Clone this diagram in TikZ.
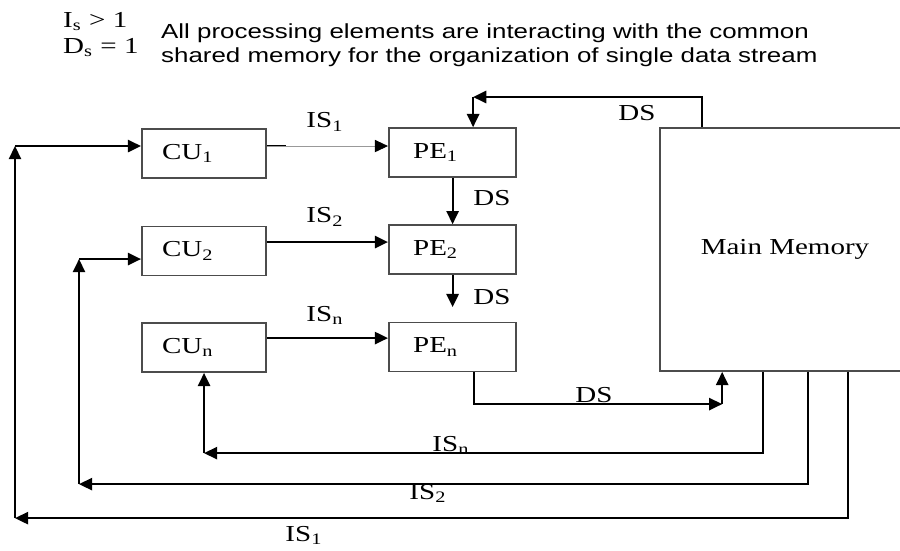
\documentclass[tikz,border=0pt]{standalone}
\usepackage{fontspec}
\setmainfont{Liberation Serif}
\newfontfamily\arialfont{Liberation Sans}
\usetikzlibrary{arrows.meta,positioning}

\begin{document}
\begin{tikzpicture}[x=0.01575cm,y=-0.02cm,xscale=1.27,transform shape,
  >={Triangle[length=7.5pt,width=7pt]},line width=1.1pt,
  box/.style={draw=black!70,line width=1pt,minimum height=0.98cm,align=left,
    font=\fontsize{13}{15}\selectfont},
  cubox/.style={box,minimum width=1.95cm,text width=1.32cm,inner xsep=0.315cm},
  pebox/.style={box,minimum width=2cm,text width=1.24cm,inner xsep=0.38cm},
  lbl/.style={font=\fontsize{13}{15}\selectfont,inner sep=1pt},
  note/.style={anchor=base west,inner sep=0pt,font=\arialfont\fontsize{11.6}{13}\selectfont},
  cond/.style={anchor=base west,inner sep=0pt,font=\fontsize{13}{15}\selectfont}]
\useasboundingbox (0,0) rectangle (900,550);
\node[cond] (cond1) at (62,27) {I\textsubscript{s} > 1};
\node[cond] (cond2) at (62,53) {D\textsubscript{s} = 1};
\node[note] (note1) at (160,38) {All processing elements are interacting with the common};
\node[note] (note2) at (160,62) {shared memory for the organization of single data stream};

\node[cubox] (cu1) at (204,153.5) {CU\textsubscript{1}};
\node[cubox] (cu2) at (204,251) {CU\textsubscript{2}};
\node[cubox] (cun) at (204,347.5) {CU\textsubscript{n}};
\node[pebox] (pe1) at (452.5,152.5) {PE\textsubscript{1}};
\node[pebox] (pe2) at (452.5,249.5) {PE\textsubscript{2}};
\node[pebox] (pen) at (452.5,347) {PE\textsubscript{n}};
\node[box,align=center,minimum width=3.94cm,minimum height=4.86cm] (mem) at (785,249.5) {Main Memory};

\draw ([yshift=0.15cm]cu1.east) -- ++(19,0);
\draw[line width=0.5pt,black!40,-{Triangle[length=7.5pt,width=7pt,black]}] ([yshift=0.15cm]cu1.east) -- ([yshift=0.15cm]cu1.east -| pe1.west);
\draw[->] ([yshift=0.18cm]cu2.east) -- ([yshift=0.18cm]cu2.east -| pe2.west);
\draw[->] ([yshift=0.19cm]cun.east) -- ([yshift=0.19cm]cun.east -| pen.west);
\node[lbl] (is1a) at (325,122) {IS\textsubscript{1}};
\node[lbl] (is2a) at (325,217) {IS\textsubscript{2}};
\node[lbl] (isna) at (325,315) {IS\textsubscript{n}};

\coordinate (u1) at (702,97);
\coordinate (u2) at (473,97);
\draw[->] (mem.north -| u1) -- (u1) -- (u2);
\draw[->] (u2) -- (u2 |- pe1.north);
\node[lbl] (dsa) at (637,113) {DS};
\draw[->] (pe1.south) -- (pe2.north);
\node[lbl] (dsb) at (492,198) {DS};
\coordinate (e2) at (453,307);
\draw[->] (pe2.south) -- (pe2.south |- e2);
\node[lbl] (dsc) at (492,297) {DS};
\coordinate (d1) at (474,404);
\coordinate (d2) at (722,404);
\draw[->] (pen.south -| d1) -- (d1) -- (d2);
\draw[->] (d2) -- (d2 |- mem.south);
\node[lbl] (dsd) at (594,395) {DS};

\coordinate (on) at (763,453);
\coordinate (ln) at (204,453);
\draw[->] (mem.south -| on) -- (on) -- (ln);
\draw[->] (ln) -- (cun.south);
\node[lbl] (isnb) at (451,445) {IS\textsubscript{n}};
\coordinate (o2) at (808,484);
\coordinate (l2) at (79,484);
\coordinate (t2) at (79,259);
\draw[->] (mem.south -| o2) -- (o2) -- (l2);
\draw[->] (l2) -- (t2);
\draw[->] (t2) -- (t2 -| cu2.west);
\node[lbl] (is2b) at (428,493) {IS\textsubscript{2}};
\coordinate (o1) at (848,518);
\coordinate (l1) at (15,518);
\coordinate (t1) at (15,146);
\draw[->] (mem.south -| o1) -- (o1) -- (l1);
\draw[->] (l1) -- (t1);
\draw[->] (t1) -- (t1 -| cu1.west);
\node[lbl] (is1b) at (304,535) {IS\textsubscript{1}};
\end{tikzpicture}
\end{document}
